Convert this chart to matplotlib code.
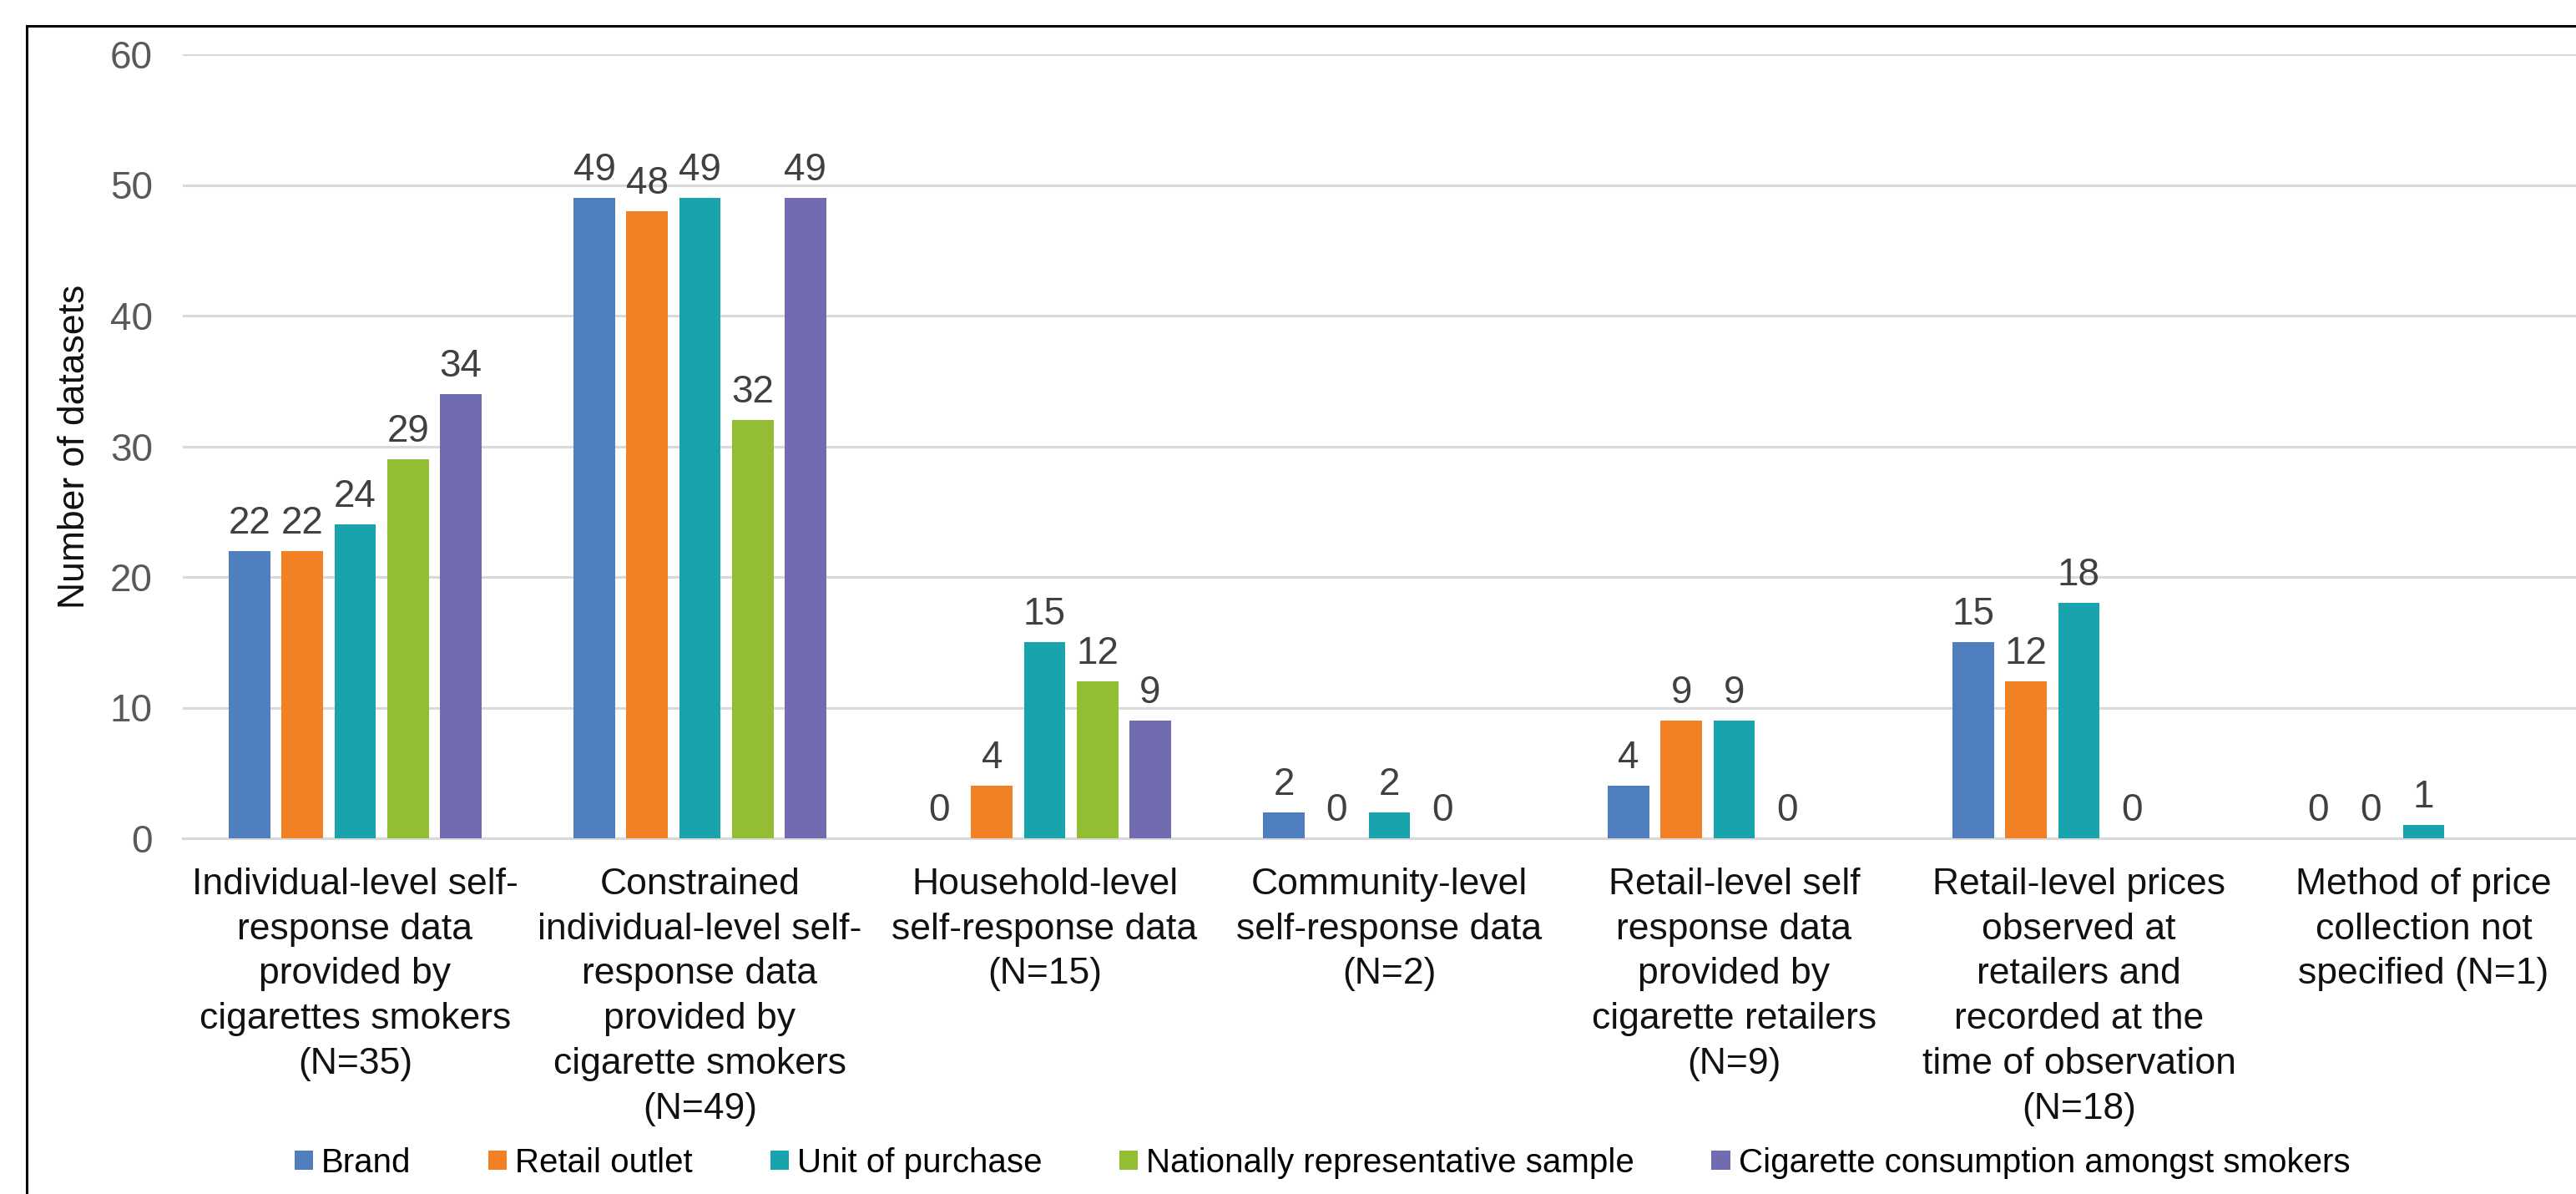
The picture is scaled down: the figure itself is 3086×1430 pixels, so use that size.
import numpy as np
import matplotlib
matplotlib.use("Agg")
import matplotlib.pyplot as plt
from matplotlib.lines import Line2D

plt.rcParams['font.family'] = ['Liberation Sans', 'DejaVu Sans']

categories = [
    "Individual-level self-\nresponse data\nprovided by\ncigarettes smokers\n(N=35)",
    "Constrained\nindividual-level self-\nresponse data\nprovided by\ncigarette smokers\n(N=49)",
    "Household-level\nself-response data\n(N=15)",
    "Community-level\nself-response data\n(N=2)",
    "Retail-level self\nresponse data\nprovided by\ncigarette retailers\n(N=9)",
    "Retail-level prices\nobserved at\nretailers and\nrecorded at the\ntime of observation\n(N=18)",
    "Method of price\ncollection not\nspecified (N=1)",
]
series_names = ["Brand", "Retail outlet", "Unit of purchase",
                "Nationally representative sample",
                "Cigarette consumption amongst smokers"]
brand = [22, 49, 0, 2, 4, 15, 0]
retail_outlet = [22, 48, 4, 0, 9, 12, 0]
unit_of_purchase = [24, 49, 15, 2, 9, 18, 1]
nationally_rep = [29, 32, 12, 0, 0, 0, np.nan]
consumption = [34, 49, 9, np.nan, np.nan, np.nan, np.nan]
series_values = [brand, retail_outlet, unit_of_purchase, nationally_rep, consumption]
colors = ["#4F7FBE", "#F28125", "#19A4AD", "#93BD33", "#716CB0"]
yticks = [0, 10, 20, 30, 40, 50, 60]

W, H = 3086, 1430
fig = plt.figure(figsize=(W / 100, H / 100), dpi=100)
left_px, right_px, top_px, bottom_px = 219, 3110, 65, 1004
ax = fig.add_axes([left_px / W, (H - bottom_px) / H,
                   (right_px - left_px) / W, (bottom_px - top_px) / H])

x = np.arange(len(categories))
slot = 0.153
bw = 0.121
handles = []
for i, (name, vals, c) in enumerate(zip(series_names, series_values, colors)):
    vals = np.array(vals, dtype=float)
    xi = x + (i - 2) * slot
    b = ax.bar(xi, np.nan_to_num(vals), width=bw, color=c, label=name, zorder=3)
    handles.append(b)
    for xx, v in zip(xi, vals):
        if np.isnan(v):
            continue
        ax.text(xx, v + 0.7, f"{int(v)}", ha='center', va='bottom',
                fontsize=33, color='#404040', zorder=4)

ax.set_xlim(-0.5, len(categories) - 0.5)
ax.set_ylim(0, 60)
ax.set_yticks(yticks)
ax.set_yticklabels([str(t) for t in yticks], fontsize=33, color='#595959')
ax.set_xticks(x)
ax.set_xticklabels(categories, fontsize=32, color='#111111', linespacing=1.40)
ax.tick_params(axis='both', length=0)
ax.tick_params(axis='y', pad=26)
ax.tick_params(axis='x', pad=25)
ax.grid(axis='y', color='#d9d9d9', linewidth=2.2, zorder=0)
for s in ['top', 'right', 'left']:
    ax.spines[s].set_visible(False)
ax.spines['bottom'].set_color('#d9d9d9')
ax.spines['bottom'].set_linewidth(2.2)
ax.set_axisbelow(True)

ax.set_ylabel("Number of datasets", fontsize=32, color='#111111')
ax.yaxis.set_label_coords((110 - left_px) / (right_px - left_px), 0.5)

fig.legend(handles=handles, labels=series_names, loc='center',
           bbox_to_anchor=(1584 / W, 1 - 1393 / H), ncol=5, frameon=False,
           fontsize=29, handlelength=0.55, handleheight=0.5, handletextpad=0.25,
           columnspacing=2.3)

# outer chart border (cropped on right and bottom)
bx, by = 32 / W, 1 - 31 / H
fig.add_artist(Line2D([bx, bx], [0, by], transform=fig.transFigure,
                      color='black', linewidth=2.2))
fig.add_artist(Line2D([bx, 1], [by, by], transform=fig.transFigure,
                      color='black', linewidth=2.2))

fig.savefig("out.png", dpi=100, facecolor='white')
